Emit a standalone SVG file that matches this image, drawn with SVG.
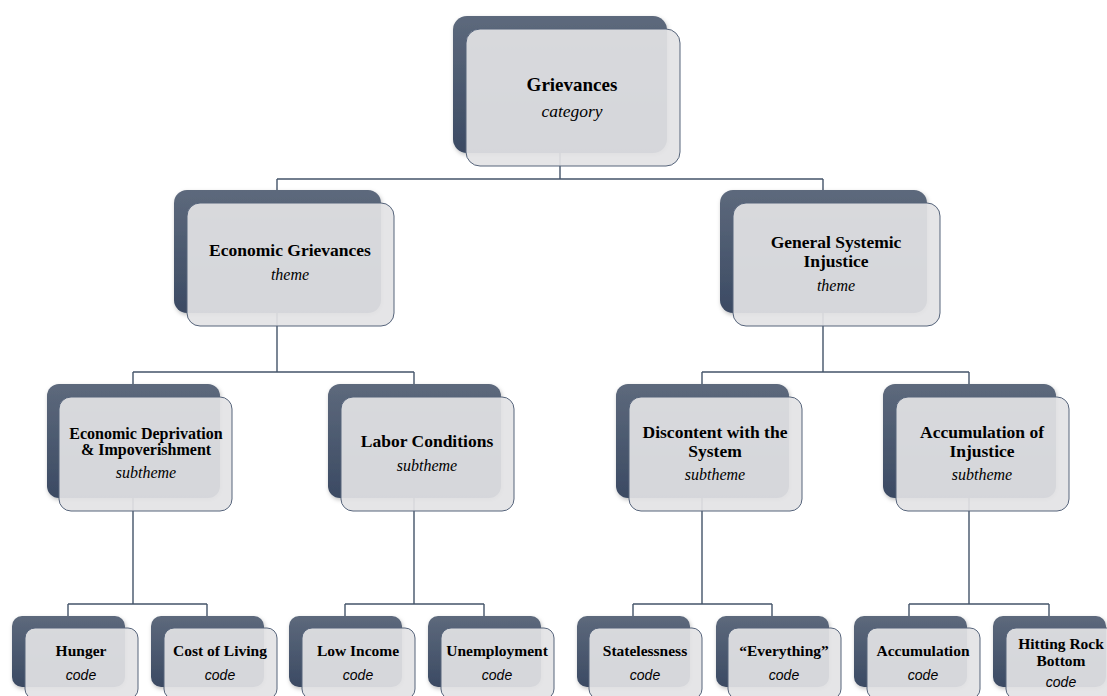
<svg xmlns="http://www.w3.org/2000/svg" width="1107" height="696" viewBox="0 0 1107 696">
<defs>
<linearGradient id="bk" x1="0" y1="0" x2="0" y2="1">
<stop offset="0" stop-color="#5d697c"/>
<stop offset="1" stop-color="#3b4a63"/>
</linearGradient>
<filter id="sh" x="-10%" y="-10%" width="125%" height="125%">
<feDropShadow dx="1" dy="2" stdDeviation="2" flood-color="#000" flood-opacity="0.25"/>
</filter>
<style>
.back{fill:url(#bk);filter:url(#sh)}
.front{fill:#e3e3e5;fill-opacity:0.92;stroke:#56647b;stroke-width:1}
.con{fill:none;stroke:#44546a;stroke-width:1.4}
.b{font-family:"Liberation Serif","Times New Roman",serif;font-weight:bold;fill:#000;text-anchor:middle}
.i{font-family:"Liberation Serif","Times New Roman",serif;font-style:italic;fill:#000;text-anchor:middle}
.c{font-family:"Liberation Sans",Arial,sans-serif;font-style:italic;font-size:14px;fill:#000;text-anchor:middle}
</style>
</defs>
<rect width="1107" height="696" fill="#fff"/>
<g id="connectors" class="con">
<path d="M560 153V179M277 179H823M277 179V190M823 179V190"/>
<path d="M277 313V372M133 372H414M133 372V384M414 372V384"/>
<path d="M823 313V372M702 372H969M702 372V384M969 372V384"/>
<path d="M133 498V604M68 604H207M68 604V616M207 604V616"/>
<path d="M414 498V604M345 604H484M345 604V616M484 604V616"/>
<path d="M702 498V604M633 604H772M633 604V616M772 604V616"/>
<path d="M969 498V604M909 604H1049M909 604V616M1049 604V616"/>
</g>
<g id="n-grievances">
<rect class="back" x="453" y="16" width="214" height="137" rx="14"/>
<rect class="front" x="466" y="29" width="214" height="137" rx="14"/>
<text class="b" x="572" y="91" font-size="19">Grievances</text>
<text class="i" x="572" y="117" font-size="17.5">category</text>
</g>
<g id="n-economic">
<rect class="back" x="174" y="190" width="207" height="123" rx="13"/>
<rect class="front" x="187" y="203" width="207" height="123" rx="13"/>
<text class="b" x="290" y="256" font-size="17.5">Economic Grievances</text>
<text class="i" x="290" y="280" font-size="16">theme</text>
</g>
<g id="n-general">
<rect class="back" x="720" y="190" width="207" height="123" rx="13"/>
<rect class="front" x="733" y="203" width="207" height="123" rx="13"/>
<text class="b" x="836" y="248" font-size="17.5">General Systemic</text>
<text class="b" x="836" y="267" font-size="17.5">Injustice</text>
<text class="i" x="836" y="291" font-size="16">theme</text>
</g>
<g id="n-deprivation">
<rect class="back" x="47" y="384" width="173" height="114" rx="12"/>
<rect class="front" x="59" y="397" width="173" height="114" rx="12"/>
<text class="b" x="146" y="439" font-size="16">Economic Deprivation</text>
<text class="b" x="146" y="455" font-size="16">&amp; Impoverishment</text>
<text class="i" x="146" y="478" font-size="16">subtheme</text>
</g>
<g id="n-labor">
<rect class="back" x="328" y="384" width="173" height="114" rx="12"/>
<rect class="front" x="341" y="397" width="173" height="114" rx="12"/>
<text class="b" x="427" y="447" font-size="17.5">Labor Conditions</text>
<text class="i" x="427" y="471" font-size="16">subtheme</text>
</g>
<g id="n-discontent">
<rect class="back" x="616" y="384" width="173" height="114" rx="12"/>
<rect class="front" x="629" y="397" width="173" height="114" rx="12"/>
<text class="b" x="715" y="438" font-size="17.5">Discontent with the</text>
<text class="b" x="715" y="457" font-size="17.5">System</text>
<text class="i" x="715" y="480" font-size="16">subtheme</text>
</g>
<g id="n-accum-injustice">
<rect class="back" x="883" y="384" width="173" height="114" rx="12"/>
<rect class="front" x="896" y="397" width="173" height="114" rx="12"/>
<text class="b" x="982" y="438" font-size="17.5">Accumulation of</text>
<text class="b" x="982" y="457" font-size="17.5">Injustice</text>
<text class="i" x="982" y="480" font-size="16">subtheme</text>
</g>
<g id="n-hunger">
<rect class="back" x="12" y="616" width="113" height="71" rx="10"/>
<rect class="front" x="25" y="628" width="113" height="71" rx="10"/>
<text class="b" x="81" y="656" font-size="15.5">Hunger</text>
<text class="c" x="81" y="680">code</text>
</g>
<g id="n-cost">
<rect class="back" x="151" y="616" width="113" height="71" rx="10"/>
<rect class="front" x="164" y="628" width="113" height="71" rx="10"/>
<text class="b" x="220" y="656" font-size="15.5">Cost of Living</text>
<text class="c" x="220" y="680">code</text>
</g>
<g id="n-lowincome">
<rect class="back" x="289" y="616" width="113" height="71" rx="10"/>
<rect class="front" x="302" y="628" width="113" height="71" rx="10"/>
<text class="b" x="358" y="656" font-size="15.5">Low Income</text>
<text class="c" x="358" y="680">code</text>
</g>
<g id="n-unemployment">
<rect class="back" x="428" y="616" width="113" height="71" rx="10"/>
<rect class="front" x="441" y="628" width="113" height="71" rx="10"/>
<text class="b" x="497" y="656" font-size="15.5">Unemployment</text>
<text class="c" x="497" y="680">code</text>
</g>
<g id="n-statelessness">
<rect class="back" x="577" y="616" width="113" height="71" rx="10"/>
<rect class="front" x="589" y="628" width="113" height="71" rx="10"/>
<text class="b" x="645" y="656" font-size="15.5">Statelessness</text>
<text class="c" x="645" y="680">code</text>
</g>
<g id="n-everything">
<rect class="back" x="716" y="616" width="113" height="71" rx="10"/>
<rect class="front" x="728" y="628" width="113" height="71" rx="10"/>
<text class="b" x="784" y="656" font-size="15.5">“Everything”</text>
<text class="c" x="784" y="680">code</text>
</g>
<g id="n-accumulation">
<rect class="back" x="854" y="616" width="113" height="71" rx="10"/>
<rect class="front" x="867" y="628" width="113" height="71" rx="10"/>
<text class="b" x="923" y="656" font-size="15.5">Accumulation</text>
<text class="c" x="923" y="680">code</text>
</g>
<g id="n-rockbottom">
<rect class="back" x="993" y="616" width="113" height="71" rx="10"/>
<rect class="front" x="1006" y="628" width="113" height="71" rx="10"/>
<text class="b" x="1061" y="649" font-size="15.5">Hitting Rock</text>
<text class="b" x="1061" y="666" font-size="15.5">Bottom</text>
<text class="c" x="1061" y="687">code</text>
</g>
</svg>
